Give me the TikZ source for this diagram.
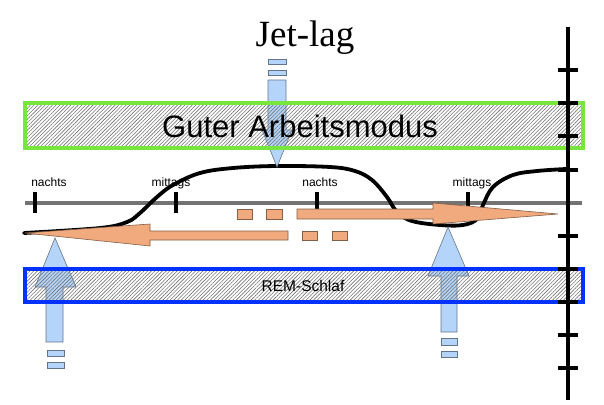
\documentclass[tikz,border=0pt]{standalone}
\usepackage{fontspec}
\setmainfont{Liberation Serif}
\setsansfont{Liberation Sans}
\usetikzlibrary{patterns.meta}
\definecolor{lagblue}{RGB}{180,212,250}
\definecolor{lagorange}{RGB}{240,170,125}
\definecolor{boxgreen}{RGB}{120,230,60}
\definecolor{boxblue}{RGB}{0,50,255}
\tikzset{
  bluearrow/.style={fill=lagblue,draw=black!45!lagblue,line width=0.6},
  orangearrow/.style={fill=lagorange,draw=black!45!lagorange,line width=0.6},
  hatchbox/.style={pattern={Lines[angle=45,distance=2.6pt,line width=0.6pt]},pattern color=black!55,line width=3.5},
  daylabel/.style={font=\sffamily\fontsize{12}{12}\selectfont,anchor=base}
}
\begin{document}
\begin{tikzpicture}[x=1pt,y=-1pt]
            \useasboundingbox (0,0) rectangle (604,404);
            \node[font=\fontsize{37}{37}\selectfont,anchor=base] (jetlag) at (305,47) {Jet-lag};
            \draw[black!55,line width=4] (25,203) -- (582,203);
            \foreach \x in {35,176,317,468}
              \draw[line width=3.3] (\x,192) -- (\x,213);
            \node[daylabel] (nachtsA) at (49,186) {nachts};
            \node[daylabel] (mittagsA) at (171,186) {mittags};
            \node[daylabel] (nachtsB) at (320,186) {nachts};
            \node[daylabel] (mittagsB) at (472,186) {mittags};
            \draw[line width=3.8,line cap=round] plot[smooth,tension=0.6] coordinates {(24,233) (100,228) (127,222) (140,213) (157,197) (173,185) (200,173) (233,168) (277,166) (330,167) (355,171) (372,180) (387,197) (397,212) (412,221) (440,225) (463,225) (477,219) (483,205) (493,187) (513,175) (537,171) (566,169)};
            \draw[orangearrow] (237,209) rectangle (252,219);
            \draw[orangearrow] (266,209) rectangle (282,219);
            \draw[orangearrow] (297,209) -- (433,209) -- (433,203) -- (558,214) -- (433,224) -- (433,219) -- (297,219) -- cycle;
            \draw[orangearrow] (302,231) rectangle (317,240);
            \draw[orangearrow] (332,231) rectangle (347,240);
            \draw[orangearrow] (288,231) -- (150,231) -- (150,224) -- (25,233) -- (150,246) -- (150,240) -- (288,240) -- cycle;
            \draw[bluearrow] (268,59) rectangle (286,64);
            \draw[bluearrow] (268,70) rectangle (286,75);
            \draw[bluearrow] (268,80) -- (286,80) -- (286,130) -- (292,130) -- (277,167) -- (262,130) -- (268,130) -- cycle;
            \draw[bluearrow] (46,342) -- (46,287) -- (35,287) -- (55,238) -- (76,287) -- (63,287) -- (63,342) -- cycle;
            \draw[bluearrow] (47,350) rectangle (64,356);
            \draw[bluearrow] (47,362) rectangle (64,368);
            \draw[bluearrow] (441,332) -- (441,276) -- (428,276) -- (448,227) -- (469,276) -- (457,276) -- (457,332) -- cycle;
            \draw[bluearrow] (441,338) rectangle (457,345);
            \draw[bluearrow] (441,351) rectangle (457,357);
            \draw[hatchbox,draw=boxgreen] (25,103) rectangle (583,148);
            \draw[hatchbox,draw=boxblue] (25,269) rectangle (583,302);
            \node[font=\sffamily\fontsize{31}{31}\selectfont,anchor=base] (guter) at (300,137) {Guter Arbeitsmodus};
            \node[font=\sffamily\fontsize{15.5}{15.5}\selectfont,anchor=base] (rem) at (303,291) {REM-Schlaf};
            \draw[line width=3.5] (568,27) -- (568,400);
            \foreach \y in {70,103,136,170,236,269,302,335,368}
              \draw[line width=3.5] (558,\y) -- (578,\y);
        \end{tikzpicture}
\end{document}
